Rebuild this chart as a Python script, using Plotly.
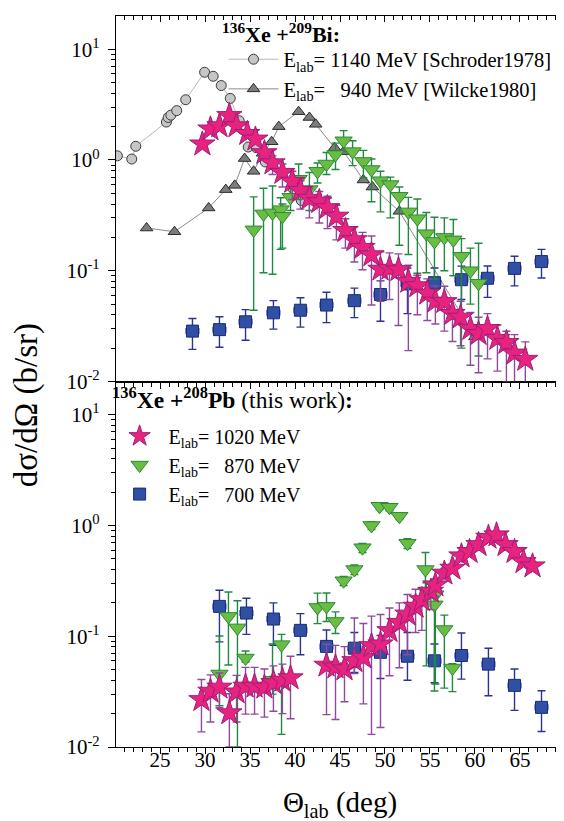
import plotly.graph_objects as go

# --- top panel: 136Xe + 209Bi (literature) ---
schroder_x = [20.25, 21.85, 22.3, 25.7, 25.9, 26.2, 26.85, 27.85, 29.95, 30.9, 31.8, 32.8, 33.8, 34.8, 35.7, 36.7, 39.8, 40.7]
schroder_y = [1.09, 1.02, 1.33, 2.2, 2.42, 2.54, 2.79, 3.5, 6.2, 5.7, 4.7, 3.6, 2.26, 1.31, 1.29, 0.96, 0.55, 0.43]

wilcke_x = [23.5, 26.6, 30.4, 32.3, 33.3, 34.4, 35.4, 36.4, 37.4, 38.2, 40.4, 41.6, 42.3, 44.4, 45.4, 47.6, 48.6, 51.6, 60.0]
wilcke_y = [0.243, 0.225, 0.369, 0.54, 0.59, 1.03, 0.79, 1.15, 1.46, 2.0, 2.73, 2.42, 2.1, 1.29, 1.19, 0.66, 0.57, 0.344, 0.0253]

# top panel, this-work style points
t_star_x = [29.7, 30.6, 31.6, 32.7, 33.5, 34.7, 35.6, 36.6, 37.5, 38.6, 39.7, 40.6, 41.6, 42.7, 43.6, 44.6, 45.6, 46.6, 47.5, 48.5,
            49.5, 50.5, 51.5, 52.6, 53.6, 54.7, 55.6, 56.6, 57.5, 58.4, 59.5, 60.4, 61.4, 62.5, 63.5, 64.4, 65.6]
t_star_y = [1.39, 1.90, 2.03, 2.51, 2.03, 1.73, 1.54, 1.16, 0.94, 0.77, 0.64, 0.53, 0.45, 0.42, 0.37, 0.31, 0.23, 0.19, 0.162, 0.139,
            0.103, 0.105, 0.102, 0.080, 0.073, 0.0625, 0.053, 0.0525, 0.041, 0.038, 0.030, 0.027, 0.030, 0.0244, 0.0224, 0.018, 0.0158]
t_star_up = [0.1, 0.15, 0.15, 0.2, 0.15, 0.12, 0.1, 0.08, 0.15, 0.15, 0.15, 0.12, 0.1, 0.1, 0.1, 0.08, 0.065, 0.06, 0.06, 0.067,
             0.045, 0.04, 0.04, 0.032, 0.018, 0.022, 0.02, 0.02, 0.015, 0.015, 0.012, 0.011, 0.011, 0.008, 0.006, 0.0085, 0.007]
t_star_dn = [0.1, 0.15, 0.15, 0.2, 0.15, 0.12, 0.1, 0.08, 0.2, 0.2, 0.2, 0.17, 0.15, 0.15, 0.13, 0.12, 0.07, 0.07, 0.06, 0.09,
             0.05, 0.05, 0.07, 0.061, 0.033, 0.027, 0.02, 0.024, 0.018, 0.017, 0.016, 0.015, 0.014, 0.012, 0.0125, 0.0085, 0.0075]

t_tri_x = [35.4, 36.5, 37.5, 38.4, 38.6, 39.5, 40.4, 41.6, 42.5, 43.5, 44.5, 45.4, 46.4, 47.6, 48.5, 49.5, 50.6, 51.6, 52.6, 53.6,
           54.6, 55.5, 56.6, 57.6, 58.5, 59.5, 60.4]
t_tri_y = [0.234, 0.326, 0.333, 0.356, 0.31, 0.46, 0.67, 0.54, 0.79, 0.92, 1.12, 1.49, 1.19, 0.97, 0.82, 0.65, 0.60, 0.47, 0.34, 0.295,
           0.216, 0.184, 0.20, 0.19, 0.135, 0.10, 0.077]
t_tri_up = [0.23, 0.23, 0.25, 0.10, 0.09, 0.33, 0.25, 0.23, 0.15, 0.25, 0.3, 0.35, 0.3, 0.25, 0.2, 0.14, 0.1, 0.1, 0.12, 0.15,
            0.12, 0.12, 0.1, 0.1, 0.06, 0.06, 0.1]
t_tri_dn = [0.19, 0.23, 0.24, 0.2, 0.15, 0.11, 0.23, 0.19, 0.17, 0.18, 0.3, 0.3, 0.3, 0.28, 0.4, 0.31, 0.3, 0.3, 0.2, 0.2,
            0.12, 0.1, 0.1, 0.1, 0.115, 0.05, 0.06]

t_sq_x = [28.6, 31.6, 34.5, 37.6, 40.6, 43.5, 46.6, 49.5, 52.5, 55.5, 58.5, 61.4, 64.4, 67.4]
t_sq_y = [0.0285, 0.0294, 0.0346, 0.0417, 0.044, 0.049, 0.0537, 0.061, 0.076, 0.078, 0.083, 0.0855, 0.105, 0.121]
t_sq_up = [0.0085, 0.009, 0.01, 0.012, 0.013, 0.015, 0.016, 0.02, 0.03, 0.028, 0.027, 0.025, 0.03, 0.035]
t_sq_dn = [0.009, 0.009, 0.011, 0.012, 0.013, 0.015, 0.016, 0.026, 0.035, 0.03, 0.028, 0.028, 0.032, 0.035]

# --- bottom panel: 136Xe + 208Pb (this work) ---
b_star_x = [29.6, 30.6, 31.6, 32.7, 33.5, 34.5, 35.5, 36.6, 37.6, 38.6, 39.5, 43.5, 44.5, 45.5, 46.6, 47.6, 48.5, 49.5,
            50.5, 51.6, 52.5, 53.4, 54.1, 55.1, 55.6, 56.6, 57.5, 58.5, 59.4, 60.4, 61.5, 62.4, 63.4, 64.4, 65.4, 66.4]
b_star_y = [0.0267, 0.0318, 0.0346, 0.0203, 0.0313, 0.0353, 0.0353, 0.0346, 0.038, 0.040, 0.042, 0.0546, 0.0527, 0.0506,
            0.060, 0.0645, 0.082, 0.085, 0.112, 0.133, 0.158, 0.186, 0.213, 0.254, 0.29, 0.37, 0.41, 0.53, 0.58, 0.67,
            0.78, 0.82, 0.67, 0.58, 0.47, 0.43]
b_star_up = [0.014, 0.013, 0.012, 0.010, 0.013, 0.017, 0.017, 0.016, 0.016, 0.016, 0.024, 0.03, 0.03, 0.03, 0.086, 0.066,
             0.07, 0.072, 0.068, 0.067, 0.08, 0.08, 0.06, 0.05, 0.04, 0.04, 0.04, 0.05, 0.05, 0.05, 0.06, 0.06, 0.05, 0.05, 0.04, 0.04]
b_star_dn = [0.013, 0.015, 0.012, 0.0103, 0.0145, 0.0155, 0.0155, 0.016, 0.017, 0.02, 0.024, 0.035, 0.035, 0.025, 0.014, 0.04,
             0.069, 0.07, 0.068, 0.081, 0.09, 0.078, 0.1, 0.08, 0.06, 0.04, 0.04, 0.05, 0.05, 0.05, 0.06, 0.06, 0.05, 0.05, 0.04, 0.04]

b_tri_x = [31.6, 32.6, 33.6, 34.5, 37.5, 38.5, 42.5, 43.5, 44.5, 45.4, 46.6, 47.5, 48.5, 49.4, 50.5, 51.6, 52.5, 54.5, 54.6,
           55.6, 55.5, 56.6, 57.5]
b_tri_y = [0.0456, 0.151, 0.119, 0.0636, 0.040, 0.084, 0.182, 0.186, 0.136, 0.317, 0.40, 0.63, 1.0, 1.49, 1.46, 1.21, 0.69,
           0.40, 0.254, 0.237, 0.192, 0.115, 0.0516]
b_tri_up = [0.055, 0.1, 0.09, 0.01, 0.045, 0.02, 0.063, 0.06, 0.03, 0.03, 0.04, 0.06, 0.08, 0.1, 0.1, 0.08, 0.07, 0.17, 0.05,
            0.05, 0.05, 0.04, 0.005]
b_tri_dn = [0.022, 0.096, 0.109, 0.005, 0.01, 0.071, 0.052, 0.05, 0.03, 0.03, 0.04, 0.06, 0.08, 0.1, 0.1, 0.08, 0.07, 0.15, 0.2,
            0.2, 0.16, 0.081, 0.02]

b_sq_x = [31.6, 34.6, 37.6, 40.6, 43.5, 46.6, 49.5, 52.5, 55.5, 58.5, 61.5, 64.4, 67.4]
b_sq_y = [0.186, 0.162, 0.143, 0.113, 0.081, 0.078, 0.0716, 0.066, 0.060, 0.067, 0.056, 0.036, 0.0228]
b_sq_up = [0.074, 0.058, 0.057, 0.047, 0.033, 0.03, 0.03, 0.042, 0.025, 0.04, 0.022, 0.0146, 0.0094]
b_sq_dn = [0.097, 0.058, 0.06, 0.045, 0.029, 0.031, 0.03, 0.026, 0.022, 0.026, 0.027, 0.0146, 0.009]
sq_xerr = 0.7

# log axis labels
y_tickvals = [0.01, 0.1, 1, 10]
y_ticktext = ["10<sup>-2</sup>", "10<sup>-1</sup>", "10<sup>0</sup>", "10<sup>1</sup>"]

FONT = "Liberation Serif, Times New Roman, serif"
PINK, PINK_EDGE, PINK_BAR = "#e8227f", "#9c1f78", "#8f4a9e"
GREEN, GREEN_EDGE, GREEN_BAR = "#69bd42", "#2b8a37", "#21893f"
BLUE, BLUE_EDGE, BLUE_BAR = "#2f50a3", "#1b2a7c", "#2c3290"


def errs(up, dn, color):
    return dict(type="data", symmetric=False, array=up, arrayminus=dn,
                color=color, thickness=1.4, width=4)


def add_points(fig, xa, ya, panel_legend, show):
    # stars / triangles / squares for one panel
    i = 0 if xa == "x2" else 1
    sx, sy, su, sd = [(t_star_x, t_star_y, t_star_up, t_star_dn), (b_star_x, b_star_y, b_star_up, b_star_dn)][i]
    gx, gy, gu, gd = [(t_tri_x, t_tri_y, t_tri_up, t_tri_dn), (b_tri_x, b_tri_y, b_tri_up, b_tri_dn)][i]
    qx, qy, qu, qd = [(t_sq_x, t_sq_y, t_sq_up, t_sq_dn), (b_sq_x, b_sq_y, b_sq_up, b_sq_dn)][i]
    fig.add_trace(go.Scatter(
        x=qx, y=qy, mode="markers", xaxis=xa, yaxis=ya, showlegend=show, legend=panel_legend,
        name="E<sub>lab</sub>=\u00a0\u00a0\u00a0700 MeV", legendrank=3, legendgroup="c",
        marker=dict(symbol="square", size=12, color=BLUE, line=dict(color=BLUE_EDGE, width=1)),
        error_y=errs(qu, qd, BLUE_BAR),
        error_x=dict(type="constant", value=sq_xerr, color=BLUE_BAR, thickness=1.4, width=3)))
    fig.add_trace(go.Scatter(
        x=gx, y=gy, mode="markers", xaxis=xa, yaxis=ya, showlegend=show, legend=panel_legend,
        name="E<sub>lab</sub>=\u00a0\u00a0\u00a0870 MeV", legendrank=2, legendgroup="b",
        marker=dict(symbol="triangle-down", size=15, color=GREEN, line=dict(color=GREEN_EDGE, width=1)),
        error_y=errs(gu, gd, GREEN_BAR)))
    fig.add_trace(go.Scatter(
        x=sx, y=sy, mode="markers", xaxis=xa, yaxis=ya, showlegend=show, legend=panel_legend,
        name="E<sub>lab</sub>= 1020 MeV", legendrank=1, legendgroup="a",
        marker=dict(symbol="star", size=19, color=PINK, line=dict(color=PINK_EDGE, width=1)),
        error_y=errs(su, sd, PINK_BAR)))


fig = go.Figure()

fig.add_trace(go.Scatter(
    x=schroder_x, y=schroder_y, mode="lines+markers", xaxis="x2", yaxis="y2",
    name="E<sub>lab</sub>= 1140 MeV [Schroder1978]", legend="legend", legendgroup="s1",
    line=dict(color="#b8b8b8", width=1),
    marker=dict(symbol="circle", size=10, color="#c6c6c6", line=dict(color="#3a3a3a", width=1))))
fig.add_trace(go.Scatter(
    x=wilcke_x, y=wilcke_y, mode="lines+markers", xaxis="x2", yaxis="y2",
    name="E<sub>lab</sub>=\u00a0\u00a0\u00a0940 MeV [Wilcke1980]", legend="legend", legendgroup="s2",
    line=dict(color="#8c8c8c", width=1),
    marker=dict(symbol="triangle-up", size=11, color="#7c7c7c", line=dict(color="#2a2a2a", width=1))))

add_points(fig, "x2", "y2", "legend", False)
add_points(fig, "x", "y", "legend2", True)

# empty traces so the inside-tick frame axes get drawn
fig.add_trace(go.Scatter(x=[], y=[], xaxis="x3", yaxis="y3", showlegend=False, hoverinfo="skip"))
fig.add_trace(go.Scatter(x=[], y=[], xaxis="x4", yaxis="y4", showlegend=False, hoverinfo="skip"))

XR = [20.1, 69.9]
YR = [-2, 1.3]
tickfont = dict(family=FONT, size=21, color="black")

xbase = dict(range=XR, dtick=5, tick0=25, ticks="outside", ticklen=6, tickwidth=1.2, tickcolor="black",
             showline=True, linecolor="black", linewidth=1.3, mirror=True, showgrid=False, zeroline=False,
             minor=dict(dtick=1, ticks="outside", ticklen=4, tickcolor="black", showgrid=False),
             tickfont=tickfont, ticklabelstandoff=-12)
ybase = dict(type="log", range=YR, tickmode="array", tickvals=y_tickvals, ticktext=y_ticktext,
             ticks="outside", ticklen=7, tickwidth=1.2,
             tickcolor="black", showline=True, linecolor="black", linewidth=1.3, mirror=True, showgrid=False,
             zeroline=False, minor=dict(dtick="D1", ticks="outside", ticklen=4, tickcolor="black", showgrid=False),
             tickfont=tickfont, ticklabelstandoff=4)
xin = dict(range=XR, dtick=5, tick0=25, ticks="inside", ticklen=6, tickwidth=1.2, tickcolor="black",
           showticklabels=False, showline=False, showgrid=False, zeroline=False,
           minor=dict(dtick=1, ticks="inside", ticklen=4, tickcolor="black", showgrid=False))
yin = dict(type="log", range=YR, dtick=1, ticks="inside", ticklen=7, tickwidth=1.2, tickcolor="black",
           showticklabels=False, showline=False, showgrid=False, zeroline=False,
           minor=dict(dtick="D1", ticks="inside", ticklen=4, tickcolor="black", showgrid=False))

fig.update_layout(
    width=564, height=821,
    margin=dict(l=108, r=8, t=8, b=82),
    paper_bgcolor="white", plot_bgcolor="white",
    font=dict(family=FONT, color="black"),
    xaxis=dict(xbase, anchor="y", domain=[0, 1],
               title=dict(text="\u0398<sub>lab</sub> (deg)", font=dict(family=FONT, size=29), standoff=20)),
    yaxis=dict(ybase, anchor="x", domain=[0, 0.5]),
    xaxis2=dict(xbase, anchor="y2", domain=[0, 1], matches="x", showticklabels=False),
    yaxis2=dict(ybase, anchor="x2", domain=[0.5, 1]),
    xaxis3=dict(xin, overlaying="x", side="top", anchor="y"),
    yaxis3=dict(yin, overlaying="y", side="right", anchor="x"),
    xaxis4=dict(xin, overlaying="x2", side="top", anchor="y2"),
    yaxis4=dict(yin, overlaying="y2", side="right", anchor="x2"),
    legend=dict(x=0.24, y=0.968, xanchor="left", yanchor="top", bgcolor="rgba(0,0,0,0)",
                font=dict(family=FONT, size=20.5), tracegroupgap=0, itemwidth=50),
    legend2=dict(x=-0.012, y=0.452, xanchor="left", yanchor="top", bgcolor="rgba(0,0,0,0)",
                 font=dict(family=FONT, size=20), tracegroupgap=0, itemwidth=48),
    annotations=[
        dict(text="d\u03c3/d\u03a9 (b/sr)", xref="paper", yref="paper", x=-0.198, y=0.468,
             xanchor="center", yanchor="middle", textangle=-90, showarrow=False,
             font=dict(family=FONT, size=33)),
        dict(text="<b><sup>136</sup>Xe +<sup>209</sup>Bi:</b>", xref="paper", yref="paper", x=0.232, y=0.977,
             xanchor="left", yanchor="middle", showarrow=False, font=dict(family=FONT, size=22)),
        dict(text="<b><sup>136</sup>Xe +<sup>208</sup>Pb</b> (this work)<b>:</b>", xref="paper", yref="paper",
             x=-0.014, y=0.478, xanchor="left", yanchor="middle", showarrow=False, font=dict(family=FONT, size=23.5)),
    ],
)

fig.write_html("out.html")
